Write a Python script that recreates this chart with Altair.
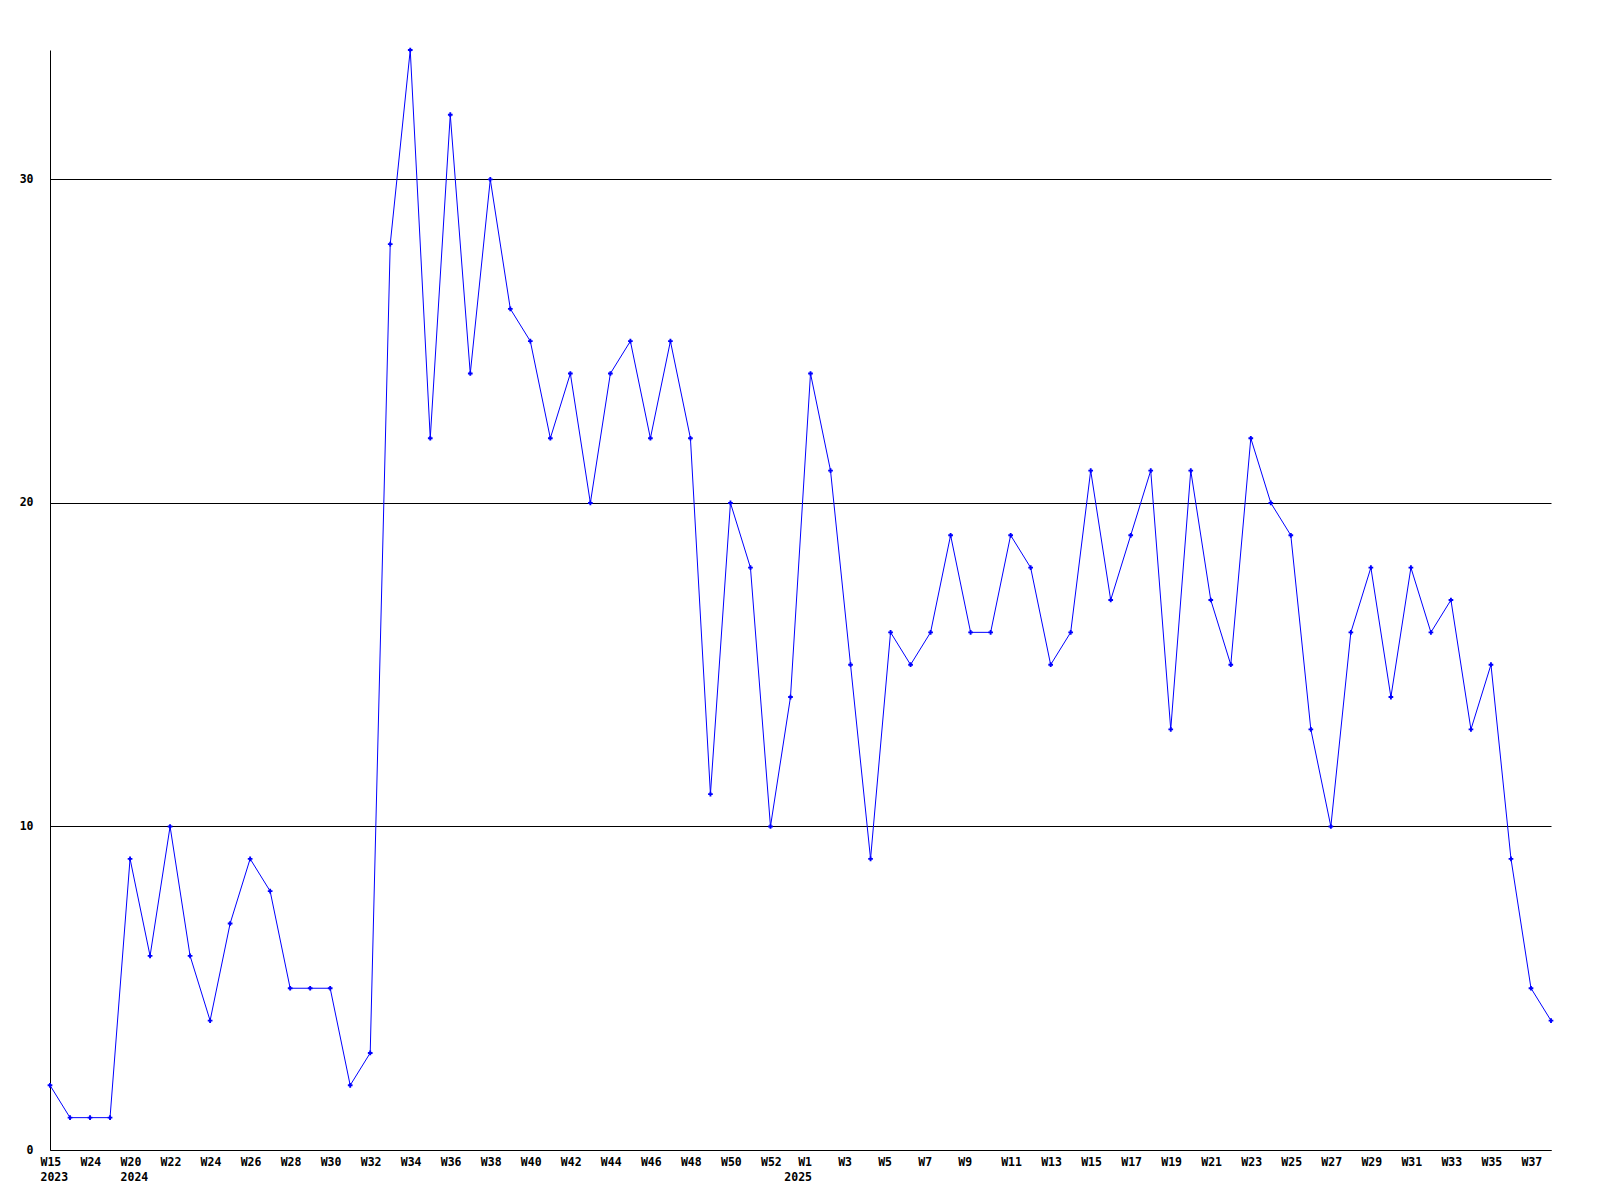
import json
import altair as alt
import pandas as pd

# Week labels (one per data point) and the year of each point
weeks = (["W15", "W20", "W24", "W19"]
         + [f"W{w}" for w in range(20, 54)]
         + [f"W{w}" for w in range(1, 39)])
years = ["2023", "2023", "2023", "2024"] + ["2024"] * 34 + ["2025"] * 38

values = [2, 1, 1, 1, 9, 6, 10, 6, 4, 7,
          9, 8, 5, 5, 5, 2, 3, 28, 34, 22,
          32, 24, 30, 26, 25, 22, 24, 20, 24, 25,
          22, 25, 22, 11, 20, 18, 10, 14, 24, 21,
          15, 9, 16, 15, 16, 19, 16, 16, 19, 18,
          15, 16, 21, 17, 19, 21, 13, 21, 17, 15,
          22, 20, 19, 13, 10, 16, 18, 14, 18, 16,
          17, 13, 15, 9, 5, 4]

y_ticks = [0, 10, 20, 30]

df = pd.DataFrame({"idx": list(range(len(values))), "week": weeks,
                   "year": years, "value": values})

# Label every second point; the year goes on a second line at its first label
shown = list(range(0, len(values), 2))
label_map = {}
prev_year = None
for i in range(len(values)):
    if i in shown:
        if years[i] != prev_year:
            label_map[i] = [weeks[i], years[i]]
            prev_year = years[i]
        else:
            label_map[i] = [weeks[i]]
    else:
        label_map[i] = [""]
labels_js = json.dumps([label_map[i] for i in range(len(values))])
short_idx = [i for i in shown if len(weeks[i]) == 2]
short_test = f"indexof({json.dumps(short_idx)}, datum.value) >= 0"

FONT = "DejaVu Sans Mono"
FS = 11.5

x = alt.X(
    "idx:Q",
    scale=alt.Scale(domain=[0, len(values) - 1], nice=False, zero=False),
    axis=alt.Axis(
        values=shown, labelExpr=f"{labels_js}[datum.value]",
        labelAlign={"condition": {"test": short_test, "value": "right"},
                    "value": "left"},
        labelOffset={"condition": {"test": short_test, "value": 1},
                     "value": -10},
        labelBaseline="top",
        labelPadding=6, labelLineHeight=15, ticks=False, grid=False,
        domainColor="black", domainWidth=1, title=None,
        labelFont=FONT, labelFontSize=FS, labelFontWeight="bold",
        labelColor="black", labelOverlap=False, labelFlush=False,
    ),
)
y = alt.Y(
    "value:Q",
    scale=alt.Scale(domain=[0, 34], nice=False),
    axis=alt.Axis(
        values=y_ticks, labelPadding=17, ticks=False, grid=True,
        gridColor="black", gridOpacity=1, gridWidth=1,
        domainColor="black", domainWidth=1, title=None,
        labelFont=FONT, labelFontSize=FS, labelFontWeight="bold",
        labelColor="black", labelBaseline="middle",
    ),
)

chart = alt.Chart(df).mark_line(
    color="#0000ff", strokeWidth=1,
    point=alt.OverlayMarkDef(shape="cross", size=22, filled=True,
                             color="#0000ff", opacity=1),
).encode(x=x, y=y).properties(
    width=1501, height=1100,
    autosize=alt.AutoSizeParams(type="none"),
    padding={"left": 42, "top": 42, "right": 41, "bottom": 40},
).configure(background="white").configure_view(stroke=None)

chart.save("out.html", embed_options={"renderer": "svg", "actions": False})
